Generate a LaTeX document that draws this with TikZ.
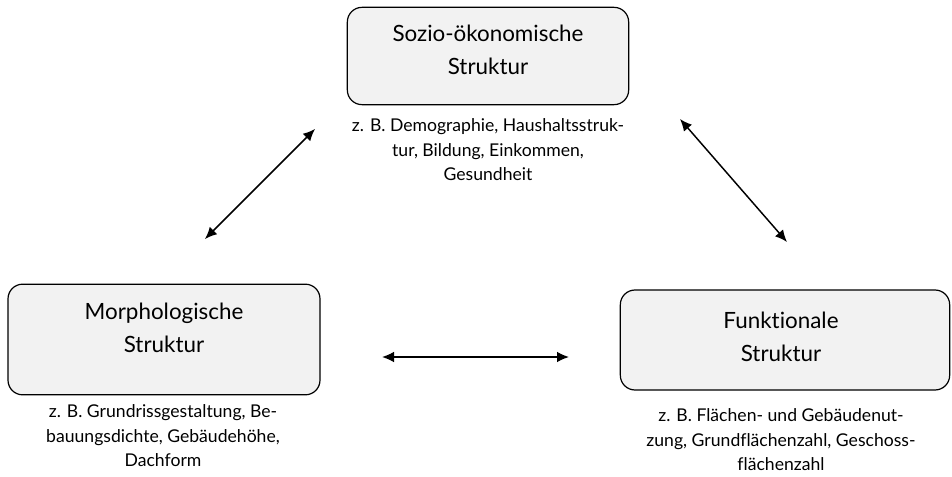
\documentclass[tikz,border=0pt]{standalone}
\usepackage{fontspec}
\setmainfont{Lato}[Ligatures=NoCommon]
\usetikzlibrary{arrows.meta, positioning}

\definecolor{boxgray}{HTML}{F2F2F2}

\begin{document}
\begin{tikzpicture}[
    x=0.75pt, y=-0.75pt,
    box/.style={rectangle, draw, rounded corners=11pt, line width=0.9pt, fill=boxgray},
    boxtitle/.style={align=center, font=\fontsize{16.8}{24.5}\selectfont, inner sep=0pt},
    desc/.style={align=center, font=\fontsize{13.2}{18.4}\selectfont, inner sep=0pt},
    arrow/.style={{Latex[length=9pt,width=8pt]}-{Latex[length=9pt,width=8pt]}, line width=1.1pt}
]
    \useasboundingbox (0,0) rectangle (952,477);

    % Boxes
    \node[box, minimum width=211pt, minimum height=73pt] (socio) at (488,56) {};
    \node[box, minimum width=234pt, minimum height=83pt] (morph) at (164,339.5) {};
    \node[box, minimum width=247pt, minimum height=75pt] (funk) at (785,340) {};

    % Titles
    \node[boxtitle] (sociotitle) at (488,50) {Sozio-ökonomische\\Struktur};
    \node[boxtitle] (morphtitle) at (164,328) {Morphologische\\Struktur};
    \node[boxtitle] (funktitle) at (781,337) {Funktionale\\Struktur};

    % Examples
    \node[desc] (sociodesc) at (488,150) {z. B. Demographie, Haushaltsstruk-\\tur, Bildung, Einkommen,\\Gesundheit};
    \node[desc] (morphdesc) at (163,436) {z. B. Grundrissgestaltung, Be-\\bauungsdichte, Gebäudehöhe,\\Dachform};
    \node[desc] (funkdesc) at (781,440) {z. B. Flächen- und Gebäudenut-\\zung, Grundflächenzahl, Geschoss-\\flächenzahl};

    % Arrow ends
    \coordinate (sm1) at (315,129);
    \coordinate (sm2) at (205,239);
    \coordinate (sf1) at (680,119);
    \coordinate (sf2) at (787,242);
    \coordinate (mf1) at (382,357);
    \coordinate (mf2) at (569,357);

    \draw[arrow] (sm1) -- (sm2);
    \draw[arrow] (sf1) -- (sf2);
    \draw[arrow] (mf1) -- (mf2);
\end{tikzpicture}
\end{document}
